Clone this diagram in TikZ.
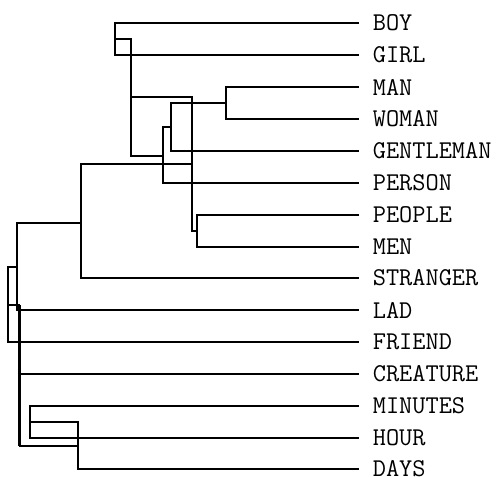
\documentclass[tikz,border=0pt]{standalone}
\begin{document}
\begin{tikzpicture}[x=1pt,y=-1pt,line width=1.7pt,line join=miter,
  lab/.style={anchor=west,inner sep=0pt,font=\fontsize{25.6}{26}\selectfont\ttfamily},
  link/.style={draw=black},
  heavy/.style={line width=2.3pt}]
\useasboundingbox (0,0) rectangle (499,477);
\foreach \n/\t/\y in {boy/BOY/23,girl/GIRL/55,man/MAN/87,woman/WOMAN/119,
  gentleman/GENTLEMAN/151,person/PERSON/183,people/PEOPLE/215,men/MEN/247,
  stranger/STRANGER/278,lad/LAD/310,friend/FRIEND/342,creature/CREATURE/374,
  minutes/MINUTES/406,hour/HOUR/438,days/DAYS/469}{
  \coordinate (\n) at (359,\y);
  \node[lab] (\n L) at (372,\y) {\t};
}
% cluster points
\coordinate (c1) at (115,39);
\coordinate (c2) at (226,103);
\coordinate (c3) at (171,127);
\coordinate (c4) at (163,156);
\coordinate (c5) at (131,97);
\coordinate (c6) at (197,231);
\coordinate (c7) at (192,164);
\coordinate (c8) at (81,223);
\coordinate (c9) at (17,267);
\coordinate (c10) at (8,305);
\coordinate (c11) at (19.5,305);
\coordinate (c12) at (30,422);
\coordinate (c13) at (78,446);
% merges
\draw[link] (boy) -- (boy -| c1) -- (girl -| c1) -- (girl);
\draw[link] (man) -- (man -| c2) -- (woman -| c2) -- (woman);
\draw[link] (c2) -- (c2 -| c3) -- (gentleman -| c3) -- (gentleman);
\draw[link] (c3) -- (c3 -| c4) -- (person -| c4) -- (person);
\draw[link] (c1) -- (c1 -| c5) -- (c4 -| c5) -- (c4);
\draw[link] (people) -- (people -| c6) -- (men -| c6) -- (men);
\draw[link] (c5) -- (c5 -| c7) -- (c6 -| c7) -- (c6);
\draw[link] (c7) -- (c7 -| c8) -- (stranger -| c8) -- (stranger);
\draw[link] (c8) -- (c8 -| c9) -- (lad -| c9) -- (lad);
\draw[link] (c9) -- (c9 -| c10) -- (friend -| c10) -- (friend);
\draw[link] (minutes) -- (minutes -| c12) -- (hour -| c12) -- (hour);
\draw[link] (c12) -- (c12 -| c13) -- (days -| c13) -- (days);
\draw[link] (c10) -- (c10 -| c11) -- (c13 -| c11) -- (c13);
\draw[link] (creature) -- (creature -| c11);
% heavier strokes seen in the reference
\draw[heavy] (c5) -- (c5 -| c7);
\draw[heavy] (people -| c6) -- (men -| c6) -- (men);
\draw[heavy] (stranger -| c8) -- (stranger);
\draw[heavy] (lad -| c11) -- (lad);
\draw[heavy] (c11) -- (c13 -| c11);
\end{tikzpicture}
\end{document}
